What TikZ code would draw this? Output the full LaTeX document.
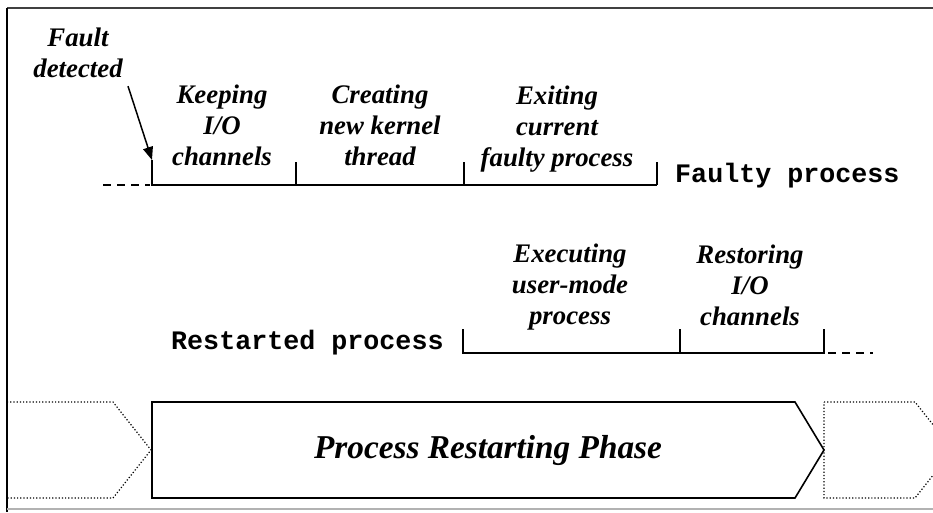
\documentclass[tikz,border=0pt]{standalone}
\usepackage{fontspec}
\setmainfont{Liberation Serif}
\setmonofont{Liberation Mono}
\usetikzlibrary{arrows.meta}

\begin{document}
\begin{tikzpicture}[x=1pt, y=1pt,
    stagelabel/.style={font=\fontsize{26.8}{31}\selectfont\bfseries\itshape, align=center, inner sep=0pt},
    tracklabel/.style={font=\fontsize{26.7}{30}\selectfont\ttfamily\bfseries, inner sep=0pt},
    timeline/.style={line width=1.6pt},
    phasebox/.style={line width=1.6pt},
    ghostbox/.style={line width=1.2pt, dotted}]
    \useasboundingbox (0,0) rectangle (933,512);
    \clip (0,0) rectangle (933,512);

    % frame
    \draw[line width=2pt, black!75] (7,504) -- (933,504);
    \draw[line width=2pt] (7,504) -- (7,0);
    \draw[line width=1.5pt, gray!60] (7,3) -- (933,3);

    % faulty process track
    \draw[timeline, dash pattern=on 8pt off 6pt] (103,327) -- (150,327);
    \draw[timeline] (152,352) -- (152,327) -- (657,327);
    \foreach \x in {296, 464, 657}
        \draw[timeline] (\x,327) -- (\x,350);
    \coordinate (fault tick) at (152,352);

    \node[stagelabel] (fault) at (78,459) {Fault\\detected};
    \node[stagelabel] (keep) at (222,387) {Keeping\\I/O\\channels};
    \node[stagelabel] (create) at (380,387) {Creating\\new kernel\\thread};
    \node[stagelabel] (exit) at (557,383) {Exiting\\current\\faulty process};
    \node[tracklabel, anchor=west] (faulty) at (675,336) {Faulty process};

    \draw[line width=1.5pt, -{Triangle[length=13pt, width=10pt]}]
        ([xshift=50pt, yshift=-8pt]fault.south) -- (fault tick);

    % restarted process track
    \draw[timeline] (463,183) -- (463,159) -- (824,159) -- (824,183);
    \draw[timeline] (680,159) -- (680,183);
    \draw[timeline, dash pattern=on 8pt off 6pt] (828,159) -- (873,159);

    \node[tracklabel, anchor=west] (restarted) at (171,169) {Restarted process};
    \node[stagelabel] (exec) at (570,225) {Executing\\user-mode\\process};
    \node[stagelabel] (restore) at (750,227) {Restoring\\I/O\\channels};

    % phases
    \draw[ghostbox] (7,110) -- (113,110) -- (151,62) -- (113,14) -- (7,14);
    \draw[phasebox] (152,110) -- (795,110) -- (824,62) -- (795,14) -- (152,14) -- cycle;
    \draw[ghostbox] (824,110) -- (915,110) -- (953,62) -- (915,14) -- (824,14) -- cycle;
    \node[font=\fontsize{33.3}{38}\selectfont\bfseries\itshape] (phase) at (488,62) {Process Restarting Phase};
\end{tikzpicture}
\end{document}
